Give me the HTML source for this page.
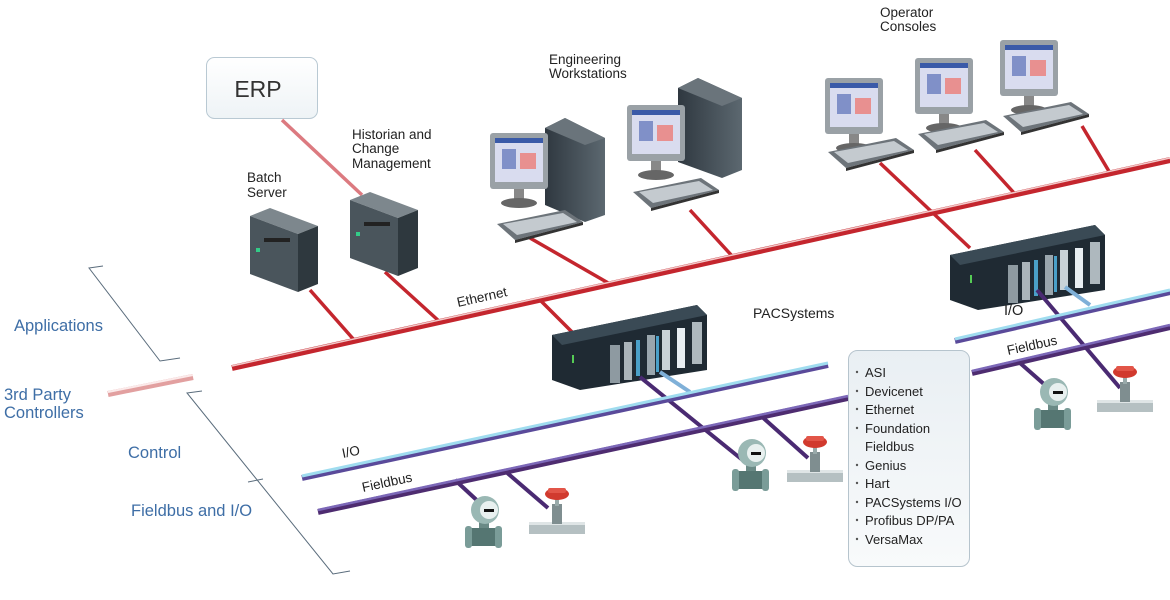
<!DOCTYPE html>
<html><head><meta charset="utf-8"><style>
html,body{margin:0;padding:0;background:#fff;}
svg{display:block;}
text{font-family:"Liberation Sans","DejaVu Sans",sans-serif;}
</style></head><body>
<svg width="1170" height="600" viewBox="0 0 1170 600" xmlns="http://www.w3.org/2000/svg">
<defs>
<linearGradient id="leg" x1="0" y1="0" x2="0" y2="1"><stop offset="0" stop-color="#e9eff3"/><stop offset="1" stop-color="#f8fafb"/></linearGradient>
<linearGradient id="erp" x1="0" y1="0" x2="0" y2="1"><stop offset="0" stop-color="#ffffff"/><stop offset="1" stop-color="#eef3f6"/></linearGradient>
<linearGradient id="tower" x1="0" y1="0" x2="1" y2="0"><stop offset="0" stop-color="#2f3840"/><stop offset="1" stop-color="#5c6870"/></linearGradient>
<g id="plc">
 <polygon points="0,25 145,-5 155,5 155,60 28,80 0,70" fill="#1f2a33"/>
 <polygon points="0,25 145,-5 155,5 10,35" fill="#3a4a55"/>
 <rect x="95" y="25" width="8" height="40" fill="#9aa6ad"/>
 <rect x="110" y="20" width="8" height="40" fill="#c8d2d8"/>
 <rect x="125" y="18" width="8" height="40" fill="#e8eef2"/>
 <rect x="140" y="12" width="10" height="42" fill="#aeb8be"/>
 <rect x="58" y="35" width="10" height="38" fill="#8e9aa1"/>
 <rect x="72" y="32" width="8" height="38" fill="#aab4ba"/>
 <rect x="84" y="30" width="4" height="36" fill="#4aa0c8"/>
 <rect x="104" y="26" width="3" height="36" fill="#4aa0c8"/>
 <rect x="20" y="45" width="2" height="8" fill="#5c5"/>
</g>
<g id="flow">
 <rect x="-4" y="18" width="10" height="14" fill="#6a8a86"/>
 <rect x="-14" y="28" width="30" height="18" rx="3" fill="#557672"/>
 <rect x="-18" y="26" width="7" height="22" rx="3" fill="#7a9c98"/>
 <rect x="12" y="26" width="7" height="22" rx="3" fill="#7a9c98"/>
 <ellipse cx="2" cy="10" rx="14" ry="14" fill="#9ab8b4"/>
 <circle cx="6" cy="10" r="9" fill="#e8f0ef"/>
 <rect x="1" y="9" width="10" height="3" fill="#111"/>
</g>
<g id="valve">
 <rect x="-28" y="32" width="56" height="12" fill="#b5c0c2"/>
 <rect x="-28" y="32" width="56" height="3" fill="#dfe5e6"/>
 <rect x="-5" y="14" width="10" height="20" fill="#7f8e90"/>
 <rect x="-2" y="6" width="4" height="10" fill="#9aa"/>
 <ellipse cx="0" cy="4" rx="12" ry="6" fill="#d13a2e"/>
 <rect x="-9" y="-2" width="18" height="5" rx="2" fill="#e25548"/>
</g>
<g id="server">
 <polygon points="0,8 20,0 68,18 48,26" fill="#7d878d"/>
 <polygon points="0,8 48,26 48,84 0,66" fill="#4a555c"/>
 <polygon points="48,26 68,18 68,76 48,84" fill="#2e383e"/>
 <rect x="14" y="30" width="26" height="4" fill="#222"/>
 <rect x="6" y="40" width="4" height="4" fill="#3c8"/>
</g>
<g id="mon">
 <rect x="0" y="0" width="58" height="56" rx="3" fill="#9aa1a6"/>
 <rect x="5" y="5" width="48" height="44" fill="#d9dcef"/>
 <rect x="5" y="5" width="48" height="5" fill="#3a5aa8"/>
 <rect x="12" y="16" width="14" height="20" fill="#8090c8"/>
 <rect x="30" y="20" width="16" height="16" fill="#e89090"/>
 <rect x="24" y="56" width="10" height="12" fill="#888"/>
 <ellipse cx="29" cy="70" rx="18" ry="5" fill="#666"/>
</g>
<g id="kb">
 <polygon points="0,14 68,0 86,12 18,30" fill="#6d747a"/>
 <polygon points="6,14 66,3 80,12 20,25" fill="#c4cacf"/>
 <polygon points="18,30 86,12 86,15 18,33" fill="#333"/>
</g>
</defs>

<!-- ERP -->
<rect x="206.5" y="57.5" width="111" height="61" rx="8" fill="url(#erp)" stroke="#b9c9d3"/>
<text x="258" y="97" font-size="23" fill="#333" text-anchor="middle">ERP</text>

<!-- red branches -->
<g stroke="#c4262e" stroke-width="3.5" fill="none">
 <line x1="282" y1="120" x2="362" y2="195" stroke="#dc7a80"/>
 <line x1="310" y1="290" x2="355" y2="341"/>
 <line x1="385" y1="272" x2="440" y2="322"/>
 <line x1="530" y1="238" x2="610" y2="284"/>
 <line x1="690" y1="210" x2="733" y2="257"/>
 <line x1="540" y1="300" x2="572" y2="332"/>
 <line x1="880" y1="163" x2="970" y2="248"/>
 <line x1="975" y1="150" x2="1015" y2="194"/>
 <line x1="1082" y1="126" x2="1110" y2="173"/>
</g>
<!-- ethernet main -->
<line x1="232" y1="368" x2="1170" y2="160" stroke="#c4262e" stroke-width="6"/>
<line x1="232" y1="366" x2="1170" y2="158" stroke="#f2c8c8" stroke-width="1.5"/>
<line x1="108" y1="394" x2="193" y2="377" stroke="#e2a0a0" stroke-width="6"/>
<line x1="108" y1="392" x2="193" y2="375" stroke="#fbeaea" stroke-width="2"/>
<text transform="translate(458,307) rotate(-12.5)" font-size="13.5" fill="#222">Ethernet</text>

<!-- bracket lines -->
<g stroke="#5a6c7c" stroke-width="1" fill="none">
 <polyline points="103,266 89,268 160,361 180,358"/>
 <polyline points="202,391 187,393 333,574 350,571"/>
 <line x1="248" y1="482" x2="263" y2="479"/>
</g>
<g fill="#3e6ea6" font-size="16.5">
 <text x="14" y="331">Applications</text>
 <text x="4" y="400">3rd Party</text>
 <text x="4" y="418">Controllers</text>
 <text x="128" y="458">Control</text>
 <text x="131" y="516">Fieldbus and I/O</text>
</g>

<!-- servers -->
<use href="#server" x="250" y="208"/>
<use href="#server" x="350" y="192"/>
<g font-size="13.5" fill="#222">
 <text x="247" y="182">Batch</text><text x="247" y="197">Server</text>
 <text x="352" y="139">Historian and</text><text x="352" y="153">Change</text><text x="352" y="168">Management</text>
 <text x="549" y="64">Engineering</text><text x="549" y="78">Workstations</text>
 <text x="880" y="17">Operator</text><text x="880" y="31">Consoles</text>
 <text x="753" y="318" font-size="14">PACSystems</text>
</g>

<!-- workstations -->
<polygon points="545,128 565,118 605,138 605,215 585,222 545,205" fill="url(#tower)"/>
<polygon points="545,128 565,118 605,138 585,145" fill="#6a747b"/>
<use href="#mon" x="490" y="133"/>
<use href="#kb" x="497" y="210"/>
<polygon points="678,88 698,78 742,98 742,170 722,178 678,162" fill="url(#tower)"/>
<polygon points="678,88 698,78 742,98 722,106" fill="#6a747b"/>
<use href="#mon" x="627" y="105"/>
<use href="#kb" x="633" y="178"/>
<!-- consoles -->
<use href="#mon" x="825" y="78"/>
<use href="#kb" x="828" y="138"/>
<use href="#mon" x="915" y="58"/>
<use href="#kb" x="918" y="120"/>
<use href="#mon" x="1000" y="40"/>
<use href="#kb" x="1003" y="102"/>

<!-- PLCs -->
<use href="#plc" x="552" y="310"/>
<use href="#plc" x="950" y="230"/>

<!-- purple drops -->
<g stroke="#4a2a72" stroke-width="4" fill="none">
 <line x1="640" y1="377" x2="745" y2="462"/>
 <line x1="760" y1="415" x2="808" y2="458"/>
 <line x1="455" y1="480" x2="482" y2="505"/>
 <line x1="505" y1="471" x2="548" y2="508"/>
 <line x1="1037" y1="290" x2="1120" y2="388"/>
 <line x1="1020" y1="363" x2="1045" y2="385"/>
</g>
<g stroke="#7fb0d8" stroke-width="4">
 <line x1="660" y1="372" x2="690" y2="392"/>
 <line x1="1065" y1="287" x2="1090" y2="305"/>
</g>

<!-- I/O and Fieldbus lines -->
<g stroke-width="6" fill="none">
 <line x1="302" y1="478" x2="828" y2="365" stroke="#5a4a9a"/>
 <line x1="302" y1="476" x2="828" y2="363" stroke="#9fdcef" stroke-width="3"/>
 <line x1="955" y1="341" x2="1170" y2="292" stroke="#5a4a9a"/>
 <line x1="955" y1="339" x2="1170" y2="290" stroke="#9fdcef" stroke-width="3"/>
 <line x1="318" y1="512" x2="848" y2="398" stroke="#4e2c70"/>
 <line x1="318" y1="510" x2="848" y2="396" stroke="#7c68b8" stroke-width="2.5"/>
 <line x1="972" y1="373" x2="1170" y2="327" stroke="#4e2c70"/>
 <line x1="972" y1="371" x2="1170" y2="325" stroke="#7c68b8" stroke-width="2.5"/>
</g>
<g font-size="13.5" fill="#222">
 <text transform="translate(343,458) rotate(-12)">I/O</text>
 <text transform="translate(363,492) rotate(-12)">Fieldbus</text>
 <text x="1004" y="315" font-size="14.5">I/O</text>
 <text transform="translate(1008,355) rotate(-12)">Fieldbus</text>
</g>

<!-- field devices -->
<use href="#flow" x="483" y="500"/>
<use href="#valve" x="557" y="490"/>
<use href="#flow" x="750" y="443"/>
<use href="#valve" x="815" y="438"/>
<use href="#flow" x="1052" y="382"/>
<use href="#valve" x="1125" y="368"/>

<!-- legend -->
<rect x="848.5" y="350.5" width="121" height="216" rx="9" fill="url(#leg)" stroke="#b6c4cd"/>
<g font-size="13" fill="#222">
 <text x="865" y="377">ASI</text>
 <text x="865" y="396">Devicenet</text>
 <text x="865" y="414">Ethernet</text>
 <text x="865" y="433">Foundation</text>
 <text x="865" y="451">Fieldbus</text>
 <text x="865" y="470">Genius</text>
 <text x="865" y="488">Hart</text>
 <text x="865" y="507">PACSystems I/O</text>
 <text x="865" y="525">Profibus DP/PA</text>
 <text x="865" y="544">VersaMax</text>
</g>
<g fill="#555">
 <circle cx="857" cy="372" r="1.2"/><circle cx="857" cy="391" r="1.2"/><circle cx="857" cy="409" r="1.2"/>
 <circle cx="857" cy="428" r="1.2"/><circle cx="857" cy="465" r="1.2"/><circle cx="857" cy="483" r="1.2"/>
 <circle cx="857" cy="502" r="1.2"/><circle cx="857" cy="520" r="1.2"/><circle cx="857" cy="539" r="1.2"/>
</g>
</svg>
</body></html>
